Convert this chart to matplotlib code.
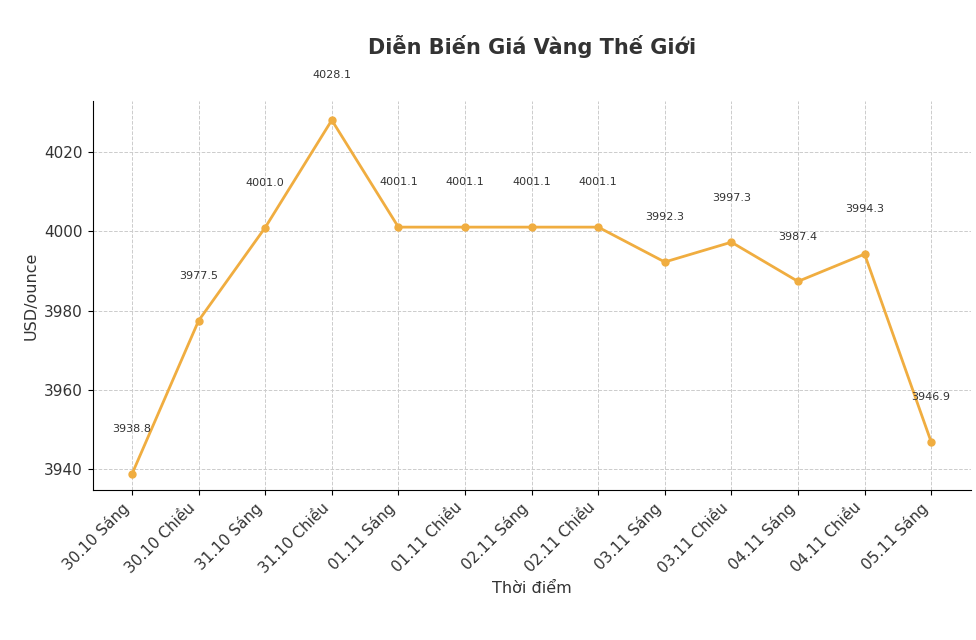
import matplotlib
matplotlib.use("Agg")
import matplotlib.pyplot as plt

labels = ["30.10 Sáng","30.10 Chiều","31.10 Sáng","31.10 Chiều","01.11 Sáng","01.11 Chiều",
          "02.11 Sáng","02.11 Chiều","03.11 Sáng","03.11 Chiều","04.11 Sáng","04.11 Chiều","05.11 Sáng"]
values = [3938.8,3977.5,4001.0,4028.1,4001.1,4001.1,4001.1,4001.1,3992.3,3997.3,3987.4,3994.3,3946.9]

fig = plt.figure(figsize=(9.76,6.4), dpi=100)
ax = fig.add_axes([0.095,0.234,0.9,0.608])
x = list(range(len(values)))
ax.plot(x, values, color="#f0ad40", lw=2, marker="o", ms=5)
for xi, v in zip(x, values):
    ax.annotate(f"{v:.1f}", (xi, v), xytext=(0, 30), textcoords="offset points",
                ha="center", fontsize=8, color="#333333")
ax.set_xticks(x)
ax.set_xticklabels(labels, rotation=45, ha="right", fontsize=11, color="#333333")
ax.set_yticks([3940,3960,3980,4000,4020])
ax.tick_params(axis="y", labelsize=11, labelcolor="#333333")
ax.set_xlim(-0.59, 12.6)
ax.set_ylim(3934.7, 4032.9)
ax.grid(True, ls="--", color="#cccccc", lw=0.7)
for s in ["top","right"]:
    ax.spines[s].set_visible(False)
ax.set_xlabel("Thời điểm", fontsize=11.5, color="#333333")
ax.set_ylabel("USD/ounce", fontsize=11.5, color="#333333")
fig.text(0.545, 0.915, "Diễn Biến Giá Vàng Thế Giới", ha="center", fontsize=15,
         fontweight="bold", color="#333333")
fig.savefig("out.png", dpi=100)
